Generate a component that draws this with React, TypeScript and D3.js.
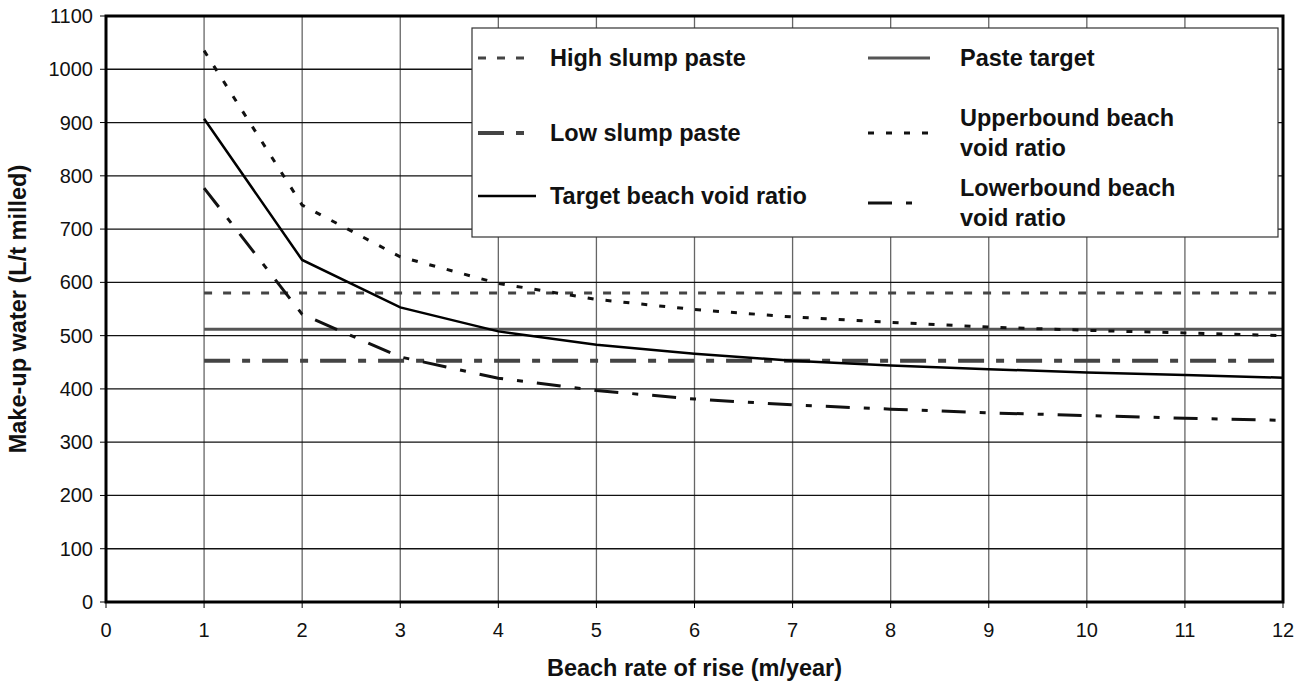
import React from 'react';
import * as d3 from 'd3';

// beach rate of rise (m/year)
const rates = [1, 2, 3, 4, 5, 6, 7, 8, 9, 10, 11, 12];

const targetVoid = [907, 642, 553, 508, 483, 466, 453, 444, 437, 431, 426, 421];
const upperVoid = [1035, 745, 648, 598, 568, 549, 535, 525, 516, 510, 505, 500];
const lowerVoid = [777, 540, 460, 420, 397, 381, 370, 362, 355, 350, 345, 341];

const highSlump = 580;
const pasteTarget = 512;
const lowSlump = 453;

const xTicks = d3.range(0, 13);
const yTicks = d3.range(0, 1200, 100);

const width = 1309;
const height = 686;
const margin = { top: 16, right: 26, bottom: 84, left: 106 };

const font = '"Liberation Sans", Arial, sans-serif';

type Style = { stroke: string; width: number; dash: string };

const styles: Record<string, Style> = {
  high: { stroke: '#444', width: 3, dash: '8 11' },
  low: { stroke: '#444', width: 4, dash: '26 12 8 12' },
  paste: { stroke: '#555', width: 3, dash: '' },
  target: { stroke: '#000', width: 2.5, dash: '' },
  upper: { stroke: '#111', width: 3, dash: '6 12' },
  lower: { stroke: '#111', width: 3, dash: '24 14 6 14' },
};

const App = () => {
  const x = d3.scaleLinear().domain([0, 12]).range([margin.left, width - margin.right]);
  const y = d3.scaleLinear().domain([0, 1100]).range([height - margin.bottom, margin.top]);

  const line = d3
    .line<[number, number]>()
    .x((d) => x(d[0]))
    .y((d) => y(d[1]));

  const curve = (vals: number[]) => line(rates.map((r, i) => [r, vals[i]]));
  const flat = (v: number) => line([[1, v], [12, v]]);

  const x0 = x(0);
  const x1 = x(12);
  const y0 = y(0);
  const y1 = y(1100);

  // legend
  const lg = { left: 472, top: 28, right: 1278, bottom: 237 };
  const legendItems = [
    { key: 'high', lines: ['High slump paste'], lx: 478, len: 56, tx: 550, ly: 58 },
    { key: 'low', lines: ['Low slump paste'], lx: 478, len: 56, tx: 550, ly: 133 },
    { key: 'target', lines: ['Target beach void ratio'], lx: 478, len: 58, tx: 550, ly: 196 },
    { key: 'paste', lines: ['Paste target'], lx: 868, len: 62, tx: 960, ly: 58 },
    { key: 'upper', lines: ['Upperbound beach', 'void ratio'], lx: 868, len: 62, tx: 960, ly: 133 },
    { key: 'lower', lines: ['Lowerbound beach', 'void ratio'], lx: 868, len: 50, tx: 960, ly: 203 },
  ];

  const path = (d: string | null, s: Style) => (
    <path d={d ?? ''} fill="none" stroke={s.stroke} strokeWidth={s.width} strokeDasharray={s.dash || undefined} />
  );

  return (
    <svg width={width} height={height} style={{ position: 'absolute', left: 0, top: 0, background: '#fff' }} fontFamily={font}>
      {/* grid */}
      {xTicks.slice(1, -1).map((t) => (
        <line key={'gx' + t} x1={x(t)} x2={x(t)} y1={y0} y2={y1} stroke="#666" strokeWidth={1.3} />
      ))}
      {yTicks.slice(1, -1).map((t) => (
        <line key={'gy' + t} x1={x0} x2={x1} y1={y(t)} y2={y(t)} stroke="#111" strokeWidth={1.3} />
      ))}

      {/* series */}
      {path(flat(highSlump), styles.high)}
      {path(flat(lowSlump), styles.low)}
      {path(flat(pasteTarget), styles.paste)}
      {path(curve(upperVoid), styles.upper)}
      {path(curve(lowerVoid), styles.lower)}
      {path(curve(targetVoid), styles.target)}

      {/* legend */}
      <rect x={lg.left} y={lg.top} width={lg.right - lg.left} height={lg.bottom - lg.top} fill="#fff" stroke="#333" strokeWidth={1.2} />
      {legendItems.map((it) => {
        const s = styles[it.key];
        const n = it.lines.length;
        return (
          <g key={it.key}>
            <line x1={it.lx} x2={it.lx + it.len} y1={it.ly} y2={it.ly} stroke={s.stroke} strokeWidth={s.width} strokeDasharray={s.dash || undefined} />
            {it.lines.map((t, i) => (
              <text key={i} x={it.tx} y={it.ly + (i - (n - 1) / 2) * 30} dy="0.35em" fontSize={23.5} fontWeight="bold" fill="#111">
                {t}
              </text>
            ))}
          </g>
        );
      })}

      {/* frame */}
      <rect x={x0} y={y1} width={x1 - x0} height={y0 - y1} fill="none" stroke="#000" strokeWidth={3} />

      {/* ticks */}
      {yTicks.map((t) => (
        <g key={'yt' + t}>
          <line x1={x0 - 6} x2={x0} y1={y(t)} y2={y(t)} stroke="#000" strokeWidth={1} />
          <text x={x0 - 13} y={y(t)} dy="0.35em" textAnchor="end" fontSize={20} fill="#111">
            {t}
          </text>
        </g>
      ))}
      {xTicks.map((t) => (
        <g key={'xt' + t}>
          <line x1={x(t)} x2={x(t)} y1={y0} y2={y0 + 6} stroke="#000" strokeWidth={1} />
          <text x={x(t)} y={y0 + 28} dy="0.35em" textAnchor="middle" fontSize={20} fill="#111">
            {t}
          </text>
        </g>
      ))}

      {/* axis titles */}
      <text x={(x0 + x1) / 2} y={668} dy="0.35em" textAnchor="middle" fontSize={23.5} fontWeight="bold" fill="#111">
        Beach rate of rise (m/year)
      </text>
      <text transform={`translate(18, ${(y0 + y1) / 2}) rotate(-90)`} dy="0.35em" textAnchor="middle" fontSize={23.5} fontWeight="bold" fill="#111">
        Make-up water (L/t milled)
      </text>
    </svg>
  );
};

export default App;
